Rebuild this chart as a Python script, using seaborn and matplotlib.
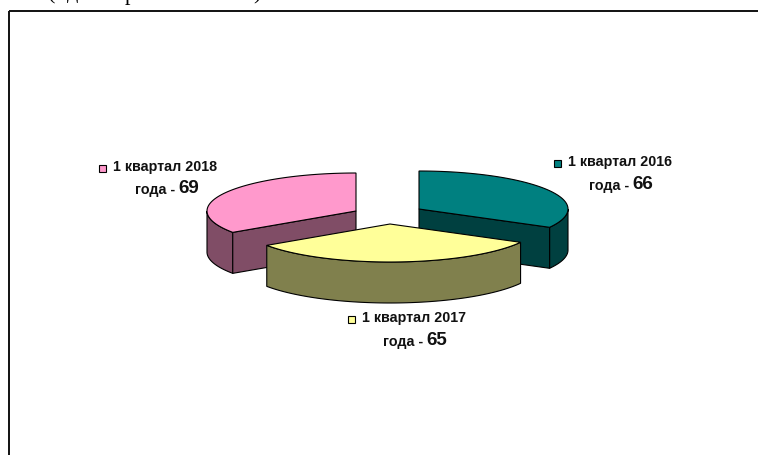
import numpy as np
import matplotlib
matplotlib.use("Agg")
import matplotlib.pyplot as plt
from matplotlib.patches import Polygon, Rectangle
import seaborn as sns

# data
quarters = ["1 квартал 2016", "1 квартал 2017", "1 квартал 2018"]
values = [66, 65, 69]
top_colors = ["#008080", "#FFFF99", "#FF99CC"]
side_colors = ["#004040", "#80804D", "#804D66"]

# layout in pixels
centers = [(419, 210), (390, 225), (356, 212)]
rx, ry, depth = 149, 38, 41
label_pos = [(568, 162, 629, 186), (362, 318, 423, 342), (113, 167, 175, 190)]

sns.set_theme(style="white")
plt.rcParams["font.family"] = ["Liberation Sans", "DejaVu Sans"]

fig = plt.figure(figsize=(7.58, 4.56), dpi=100)
ax = fig.add_axes([0, 0, 1, 1])
ax.set_xlim(0, 758)
ax.set_ylim(456, 0)
ax.axis("off")


def rim(cx, cy, a0, a1, dy=0):
    # angles clockwise from the top, like the pie is drawn
    t = np.radians(np.linspace(a0, a1, 80))
    return np.column_stack([cx + rx * np.sin(t), cy - ry * np.cos(t) + dy])


def add(points, color, z):
    ax.add_patch(Polygon(points, closed=True, facecolor=color, edgecolor="black", linewidth=0.8, zorder=z))


# frame runs off the right and bottom of the picture
ax.add_patch(Rectangle((9, 12), 800, 500, fill=False, edgecolor="#111111", linewidth=1.4, zorder=1))

# bits of the text line above the chart, cut off by the picture edge
for x, y, ch in zip([52, 73, 130, 257], [-1, -2, 0, -1], ["(", "д", "р", ")"]):
    ax.text(x, y, ch, family="Liberation Serif", fontsize=16, ha="center", va="baseline", color="black", clip_on=False)

edges = np.cumsum([0] + values) / sum(values) * 360

# teal, pink first, yellow sits in front of both
for i in [2, 0, 1]:
    cx, cy = centers[i]
    a0, a1 = edges[i], edges[i + 1]
    z = 5 if i == 1 else 3

    # outer wall, only the part facing us
    w0, w1 = max(a0, 90), min(a1, 270)
    if w1 > w0:
        top = rim(cx, cy, w0, w1)
        low = rim(cx, cy, w0, w1, depth)
        add(np.vstack([top, low[::-1]]), side_colors[i], z)

    # cut face that can be seen
    if i != 1:
        cut = a1 if i == 0 else a0
        edge = rim(cx, cy, cut, cut)[0]
        face = [(cx, cy), edge, (edge[0], edge[1] + depth), (cx, cy + depth)]
        add(face, side_colors[i], z)

    add(np.vstack([[(cx, cy)], rim(cx, cy, a0, a1)]), top_colors[i], z + 1)

for i in range(3):
    x1, y1, x2, y2 = label_pos[i]
    ax.text(x1, y1, quarters[i], fontsize=10.3, fontweight="bold", ha="left", va="center", color="#111111", zorder=8)
    ax.text(x2, y2, "года -", fontsize=10.3, fontweight="bold", ha="right", va="center", color="#111111", zorder=8)
    ax.text(x2 + 3, y2 - 1, str(values[i]), fontsize=13.5, fontweight="bold", ha="left", va="center", color="#111111", zorder=8)
    ax.add_patch(Rectangle((x1 - 14, y1 - 1), 7, 7, facecolor=top_colors[i], edgecolor="black", linewidth=0.8, zorder=8))

fig.savefig("out.png", dpi=100)
